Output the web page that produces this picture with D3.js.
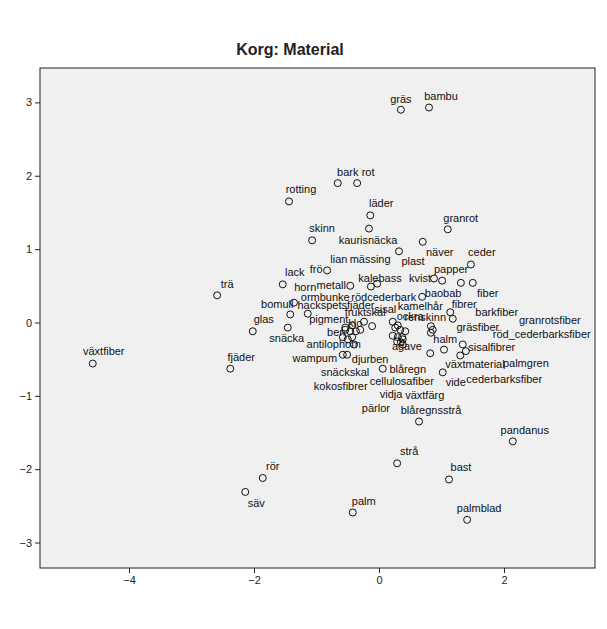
<!DOCTYPE html>
<html><head><meta charset="utf-8">
<script src="https://cdn.jsdelivr.net/npm/d3@7"></script>
<style>body{margin:0;background:#fff;font-family:"Liberation Sans",Arial,sans-serif}</style>
</head><body><svg id="c" width="607" height="629"></svg>
<script>
const names = ["gräs","bambu","bark","rot","rotting","läder","granrot","skinn","kaurisnäcka","näver","plast","ceder","papper","kvist","fiber","","baobab","fibrer","barkfiber","granrotsfiber","gräsfiber","röd_cederbarksfiber","halm","växtmaterial","vide","sisalfibrer","palmgren","cederbarksfiber","blåregn","cellulosafiber","wampum","djurben","snäckskal","kokosfibrer","vidja","växtfärg","pärlor","blåregnsstrå","antilophorn","pigment","hackspetsfjäder","bomull","glas","snäcka","ben","lack","horn","frö","metall","lian","mässing","kalebass","ormbunke","rödcederbark","fruktskal","sisal","kamelhår","ockra","renskinn","klo","agave","trä","växtfiber","fjäder","rör","säv","palm","strå","bast","pandanus","palmblad","","","","",""];
const xVals = [0.35,0.80,-0.66,-0.35,-1.44,-0.14,1.10,-1.07,-0.16,0.70,0.32,1.47,1.01,0.88,1.50,1.31,0.69,1.14,1.18,0.83,0.83,0.86,0.82,1.04,1.02,1.34,1.39,1.30,0.06,0.30,-0.58,-0.51,-0.43,-0.50,0.29,0.38,-0.37,0.64,-0.58,-1.14,-1.36,-1.42,-2.02,-1.46,-0.46,-1.54,-0.54,-0.83,-0.46,-0.13,-0.03,-0.24,-0.30,0.22,-0.11,0.26,0.34,0.37,0.42,-0.54,0.35,-2.59,-4.58,-2.38,-1.86,-2.14,-0.42,0.29,1.12,2.14,1.41,-0.43,0.30,0.38,0.22,-0.40];
const yVals = [2.90,2.93,1.90,1.90,1.65,1.46,1.27,1.12,1.28,1.10,0.97,0.79,0.57,0.60,0.54,0.54,0.35,0.14,0.05,-0.05,-0.14,-0.10,-0.42,-0.37,-0.68,-0.30,-0.39,-0.45,-0.63,-0.20,-0.44,-0.44,-0.20,-0.23,-0.26,-0.30,-0.12,-1.35,-0.20,0.12,0.27,0.11,-0.12,-0.07,-0.12,0.52,-0.07,0.71,0.50,0.49,0.53,0.01,-0.10,0.01,-0.05,-0.07,-0.10,-0.20,-0.12,-0.10,-0.27,0.37,-0.56,-0.63,-2.12,-2.31,-2.59,-1.92,-2.14,-1.62,-2.69,-0.04,-0.04,-0.23,-0.18,-0.30];
// label offsets in px (centre of text relative to point)
const labelDx = [0,12,10,11,12,11,13,10,-1,17,14,11,9,-14,15,0,21,14,44,119,47,109,15,31,13,29,60,44,25,4,-28,23,-7,-7,-6,22,20,12,-9,21,42,-13,11,-1,-14,12,-40,-11,-19,-32,-7,16,-35,-9,-7,-10,20,8,20,10,6,10,11,11,10,11,11,12,12,12,12,0,0,0,0,0];
const labelDy = [-11,-11,-11,-11,-12,-12,-11,-12,12,10,10,-12,-12,0,10,0,-4,-8,-7,-6,-6,4,-14,15,10,3,12,24,0,44,3,4,35,47,53,51,77,-11,7,5,2,-10,-12,11,1,-12,-40,-1,-1,-27,-24,-44,-33,-25,-14,-18,-24,-21,-14,-7,4,-11,-12,-12,-12,11,-11,-12,-12,-11,-12,0,0,0,0,0];
const xTicks = [-4,-2,0,2];
const yTicks = [-3,-2,-1,0,1,2,3];

const svg = d3.select("#c");
const L=40,R=595,T=68,B=568;
const x = d3.scaleLinear().domain([-5.424,3.456]).range([L,R]);
const y = d3.scaleLinear().domain([-3.347,3.469]).range([B,T]);
svg.append("text").attr("x",290).attr("y",55).attr("text-anchor","middle")
  .attr("font-size",16).attr("font-weight","bold").attr("fill","#222").text("Korg: Material");
svg.append("rect").attr("x",L).attr("y",T).attr("width",R-L).attr("height",B-T)
  .attr("fill","#f0f0f0").attr("stroke","#222").attr("stroke-width",1);
const xa = svg.append("g").attr("transform",`translate(0,${B})`)
  .call(d3.axisBottom(x).tickValues(xTicks).tickSize(5).tickFormat(d3.format("d")));
const ya = svg.append("g").attr("transform",`translate(${L},0)`)
  .call(d3.axisLeft(y).tickValues(yTicks).tickSize(5).tickFormat(d3.format("d")));
[xa,ya].forEach(a=>{a.select(".domain").remove();a.selectAll("text").attr("font-size",11).attr("fill","#222").attr("font-family","Liberation Sans, Arial");a.selectAll("line").attr("stroke","#222");});
const data = names.map((n,i)=>({n,x:xVals[i],y:yVals[i],dx:labelDx[i],dy:labelDy[i]}));
svg.append("g").selectAll("circle").data(data).join("circle")
  .attr("cx",d=>x(d.x)).attr("cy",d=>y(d.y)).attr("r",3.5)
  .attr("fill","none").attr("stroke","#111").attr("stroke-width",1);
svg.append("g").selectAll("text").data(data.filter(d=>d.n)).join("text")
  .attr("x",d=>x(d.x)+d.dx).attr("y",d=>y(d.y)+d.dy).attr("dy","0.35em")
  .attr("text-anchor","middle").attr("font-size",11).attr("fill","#111").text(d=>d.n);
</script></body></html>
